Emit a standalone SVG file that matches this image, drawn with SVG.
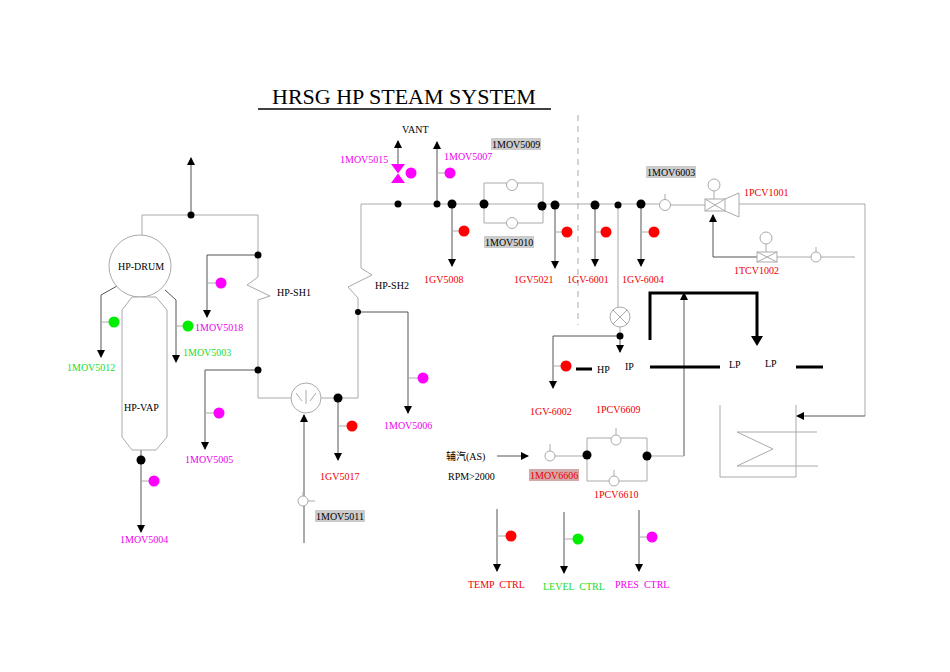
<svg xmlns="http://www.w3.org/2000/svg" width="950" height="672" viewBox="0 0 950 672">
<defs>
<marker id="a" markerWidth="8" markerHeight="8" refX="7" refY="4" orient="auto" markerUnits="userSpaceOnUse"><path d="M0,0 L8,4 L0,8 Z" fill="#000"/></marker>
</defs>
<style>
text{font-family:"Liberation Serif",serif;font-size:10px;fill:#000;white-space:pre}
.l{fill:none;stroke:#aaa;stroke-width:1}
.ar{fill:none;stroke:#555;stroke-width:1;marker-end:url(#a)}
.k{fill:#000}
.v{fill:#fff;stroke:#aaa}
.r{fill:#f00}.g{fill:#0e0}.m{fill:#f0f}
.tr{fill:#e00}.tg{fill:#2d2}.tm{fill:#e0e}
.gb{fill:#ccc}
.th{fill:none;stroke:#000;stroke-width:3}
</style>
<rect width="950" height="672" fill="#fff"/>
<text x="272" y="104" style="font-size:22px">HRSG HP STEAM SYSTEM</text>
<line x1="258" y1="109" x2="551" y2="109" stroke="#000" stroke-width="1.5"/>
<line x1="578" y1="115" x2="578" y2="325" stroke="#aaa" stroke-dasharray="6,5"/>

<g id="connectors">
<path class="l" d="M142,236 V215 H258 V255"/>
<path class="ar" d="M191,215 V158"/>
<path class="l" d="M258,255 V277 L247,285 L270,296 L258,300 V398 H291"/>
<path class="ar" d="M258,255 H207 V317"/>
<path class="ar" d="M258,370 H205 V449"/>
<path class="l" d="M321,398 H358 V312 L358,298 L348,287 L372,275 L361,268 V204 H665"/>
<path class="ar" d="M338,398 V460"/>
<path class="ar" d="M358,312 H408 V413"/>
<path class="ar" d="M304,543 V415"/>
<path class="l" d="M303,501 H315 M303,496 V492"/>
<path class="ar" d="M117,286 L101,295 V357"/>
<path class="ar" d="M165,290 L176,300 V362"/>
<path class="ar" d="M141,450 V532"/>
<path class="ar" d="M398,165 V141"/>
<path class="ar" d="M437,204 V142"/>
<path class="ar" d="M452,204 V266"/>
<path class="l" d="M484,204 V183 H543 V206 M484,204 V223 H543 V206"/>
<path class="ar" d="M555,205 V268"/>
<path class="ar" d="M595,205 V266"/>
<path class="ar" d="M641,204 V266"/>
<path class="l" d="M618,205 V307 M620,327 V336"/>
<path class="ar" d="M620,336 V352"/>
<path class="ar" d="M620,336 H553 V388"/>
<path class="l" d="M670,205 H705 M739,204 H865 V416"/>
<path class="ar" d="M865,416 H797"/>
<path class="ar" d="M767,257 H713 V215"/>
<path class="l" d="M777,257 H811 M821,257 H855 M816,252 V247 M714,191 V199 M766,243 V252 M665,200 V194"/>
<path class="ar" d="M684,456 V293"/>
<path class="l" d="M720,405 V477 H796 V405 M737,432 H817 M737,466 H818 M737,432 L773,449 L737,466"/>
<path class="ar" d="M497,456 H528"/>
<path class="l" d="M555,456 H587 V438 H647 V481 H587 V456 M647,456 H684 M550,451 V444 M616,435 V428 M614,476 V470"/>
<path class="ar" d="M497,509 V571"/>
<path class="ar" d="M564,512 V573"/>
<path class="ar" d="M639,510 V571"/>
<path class="l" d="M497,536 H506 M564,539 H573 M639,537 H647 M101,322 H109 M175,326 H183 M141,481 H149 M208,283 H216 M206,413 H214 M338,426 H347 M408,378 H418 M437,173 H445 M452,231 H459 M555,232 H562 M595,232 H601 M641,232 H649 M553,366 H561"/>
<path class="th" d="M650,340 V293 H757 V340"/>
<path d="M751,336 L757,346 L763,336 Z"/>
<path class="th" d="M576,369 H592 M650,367 H720 M796,367 H823"/>
</g>

<g id="drum"><circle cx="140" cy="266" r="31" class="v"/><text x="118" y="270">HP-DRUM</text></g>
<g id="vap"><path class="v" d="M132,297 H156 L167,310 V437 L156,450 H132 L122,437 V310 Z"/><text x="124" y="411">HP-VAP</text></g>
<g id="hx"><circle cx="306" cy="398" r="15" class="v"/><path class="l" d="M296,393 L302,401 M306,390 V404 M316,393 L310,401"/></g>
<g id="sh"><text x="277" y="296">HP-SH1</text><text x="375" y="289">HP-SH2</text></g>

<g id="nodes">
<circle cx="191" cy="215" r="3.5" class="k"/><circle cx="258" cy="255" r="3.5" class="k"/><circle cx="258" cy="370" r="3.5" class="k"/>
<circle cx="338" cy="398" r="4.5" class="k"/><circle cx="358" cy="312" r="3" class="k"/><circle cx="141" cy="460" r="4.5" class="k"/>
<circle cx="398" cy="204" r="3.5" class="k"/><circle cx="437" cy="204" r="3.5" class="k"/><circle cx="452" cy="204" r="4.5" class="k"/>
<circle cx="484" cy="204" r="4.5" class="k"/><circle cx="542" cy="206" r="4.5" class="k"/><circle cx="555" cy="205" r="4.5" class="k"/>
<circle cx="595" cy="205" r="4.5" class="k"/><circle cx="618" cy="205" r="3.5" class="k"/><circle cx="641" cy="204" r="4.5" class="k"/>
<circle cx="620" cy="336" r="3.5" class="k"/><circle cx="587" cy="455" r="4.5" class="k"/><circle cx="647" cy="456" r="4.5" class="k"/>
</g>

<g id="valves">
<circle cx="303" cy="501" r="5" class="v"/>
<circle cx="512" cy="185" r="5.5" class="v"/><circle cx="512" cy="223" r="5.5" class="v"/>
<circle cx="665" cy="205" r="5.5" class="v"/>
<circle cx="620" cy="317" r="10" class="v"/><path class="l" d="M613,310 L627,324 M627,310 L613,324"/>
<circle cx="714" cy="185" r="6" class="v"/><rect x="705" y="199" width="20" height="12" class="v"/><path class="l" d="M705,199 L725,211 M725,199 L705,211 M725,199 L739,193 V217 L725,211"/>
<circle cx="766" cy="238" r="6" class="v"/><rect x="757" y="252" width="20" height="10" class="v"/><path class="l" d="M757,252 L777,262 M777,252 L757,262"/>
<circle cx="816" cy="257" r="5" class="v"/>
<circle cx="550" cy="456" r="5" class="v"/><circle cx="616" cy="440" r="5" class="v"/><circle cx="614" cy="481" r="5" class="v"/>
<path class="m" d="M391,164 H405 L391,183 H405 Z"/>
</g>

<g id="indicators">
<circle cx="114" cy="322" r="5.5" class="g"/><circle cx="188" cy="326" r="5.5" class="g"/><circle cx="154" cy="481" r="5.5" class="m"/>
<circle cx="221" cy="283" r="5.5" class="m"/><circle cx="219" cy="413" r="5.5" class="m"/><circle cx="352" cy="426" r="5.5" class="r"/>
<circle cx="423" cy="378" r="5.5" class="m"/><circle cx="411" cy="173" r="5.5" class="m"/><circle cx="450" cy="173" r="5.5" class="m"/>
<circle cx="464" cy="231" r="5.5" class="r"/><circle cx="567" cy="232" r="5.5" class="r"/><circle cx="606" cy="232" r="5.5" class="r"/>
<circle cx="654" cy="232" r="5.5" class="r"/><circle cx="566" cy="366" r="5.5" class="r"/>
<circle cx="511" cy="536" r="5.5" class="r"/><circle cx="578" cy="539" r="5.5" class="g"/><circle cx="652" cy="537" r="5.5" class="m"/>
</g>

<g id="labels">
<text x="195" y="331" class="tm">1MOV5018</text>
<text x="183" y="356" class="tg">1MOV5003</text>
<text x="67" y="371" class="tg">1MOV5012</text>
<text x="185" y="463" class="tm">1MOV5005</text>
<text x="120" y="543" class="tm">1MOV5004</text>
<text x="320" y="480" class="tr">1GV5017</text>
<text x="384" y="429" class="tm">1MOV5006</text>
<rect x="315" y="510" width="50" height="12" class="gb"/><text x="316" y="520">1MOV5011</text>
<text x="402" y="133">VANT</text>
<text x="340" y="163" class="tm">1MOV5015</text>
<text x="444" y="160" class="tm">1MOV5007</text>
<rect x="491" y="138" width="50" height="12" class="gb"/><text x="492" y="148">1MOV5009</text>
<rect x="484" y="236" width="50" height="12" class="gb"/><text x="485" y="246">1MOV5010</text>
<text x="424" y="283" class="tr">1GV5008</text>
<text x="514" y="283" class="tr">1GV5021</text>
<text x="567" y="283" class="tr">1GV-6001</text>
<text x="622" y="283" class="tr">1GV-6004</text>
<rect x="646" y="166" width="50" height="12" class="gb"/><text x="647" y="176">1MOV6003</text>
<text x="744" y="196" class="tr">1PCV1001</text>
<text x="734" y="274" class="tr">1TCV1002</text>
<text x="597" y="373">HP</text><text x="625" y="370">IP</text>
<text x="729" y="368">LP</text><text x="765" y="367">LP</text>
<text x="530" y="415" class="tr">1GV-6002</text>
<text x="596" y="413" class="tr">1PCV6609</text>
<text x="594" y="498" class="tr">1PCV6610</text>
<text x="446" y="460" style="font-family:'Liberation Serif','Noto Sans CJK SC',serif">辅汽(AS)</text>
<text x="448" y="480">RPM&gt;2000</text>
<rect x="529" y="469" width="50" height="12" fill="#d4a8a8"/><text x="530" y="479" class="tr">1MOV6606</text>
<text x="468" y="588" class="tr">TEMP  CTRL</text>
<text x="543" y="590" class="tg">LEVEL  CTRL</text>
<text x="615" y="588" class="tm">PRES  CTRL</text>
</g>
</svg>
